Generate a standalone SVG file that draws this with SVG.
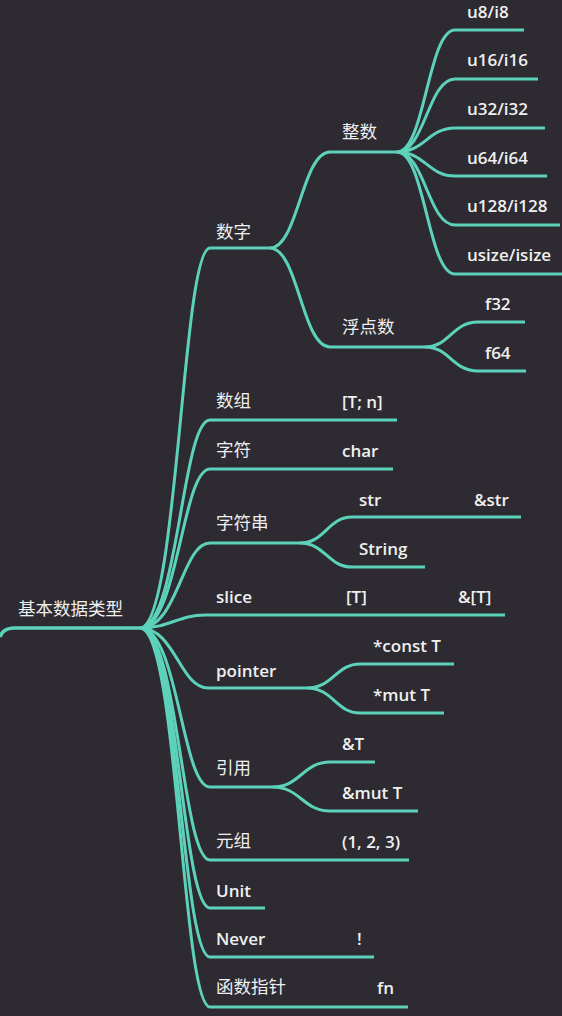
<svg xmlns="http://www.w3.org/2000/svg" width="562" height="1016" viewBox="0 0 562 1016">
<style>
.c{fill:none;stroke:#5dd2ba;stroke-width:3;stroke-linecap:butt}
.t{font-family:"Open Sans","Noto Sans CJK SC",sans-serif;font-size:17px;font-weight:600;fill:#f0f0f0}
.z{font-family:"Noto Sans CJK SC",sans-serif;font-size:17.5px;font-weight:400;fill:#f0f0f0}
</style>
<rect width="562" height="1016" fill="#2d2a32"/>
<g id="connectors">
<path class="c" style="stroke-width:3.5" d="M0,637 Q3,628 14,628 H140"/>
<path class="c" d="M140,628 C178,628 182,248 210,248 H270"/>
<path class="c" d="M140,628 C178,628 182,420 210,420 H397"/>
<path class="c" d="M140,628 C178,628 182,469 210,469 H393"/>
<path class="c" d="M140,628 C178,628 182,543 210,543 H300"/>
<path class="c" d="M140,628 C170,628 178,615 205,615 H505"/>
<path class="c" d="M140,628 C175,628 180,688 208,688 H307"/>
<path class="c" d="M140,628 C178,628 182,787 210,787 H273"/>
<path class="c" d="M140,628 C178,628 182,860 210,860 H409"/>
<path class="c" d="M140,628 C178,628 182,908 210,908 H265"/>
<path class="c" d="M140,628 C178,628 182,957 210,957 H374"/>
<path class="c" d="M140,628 C178,628 182,1007 210,1007 H408"/>
<path class="c" d="M270,248 C298,248 302,152 330,152 H397"/>
<path class="c" d="M270,248 C298,248 302,347 330,347 H425"/>
<path class="c" d="M397,152 C425,152 428,30 455,30 H524"/>
<path class="c" d="M397,152 C425,152 428,79 455,79 H538"/>
<path class="c" d="M397,152 C425,152 428,128 455,128 H545"/>
<path class="c" d="M397,152 C425,152 428,176 455,176 H547"/>
<path class="c" d="M397,152 C425,152 428,225 455,225 H560"/>
<path class="c" d="M397,152 C425,152 428,274 455,274 H562"/>
<path class="c" d="M425,347 C450,347 452,322 478,322 H525"/>
<path class="c" d="M425,347 C450,347 452,371 478,371 H526"/>
<path class="c" d="M300,543 C325,543 328,517 352,517 H521"/>
<path class="c" d="M300,543 C325,543 328,567 352,567 H425"/>
<path class="c" d="M307,688 C333,688 336,664 360,664 H454"/>
<path class="c" d="M307,688 C333,688 336,713 360,713 H444"/>
<path class="c" d="M273,787 C300,787 303,762 330,762 H375"/>
<path class="c" d="M273,787 C300,787 303,811 330,811 H418"/>
</g>
<g id="root"><text class="z" x="18" y="615">基本数据类型</text></g>
<g id="n-shuzi"><text class="z" x="216" y="238">数字</text></g>
<g id="n-zhengshu"><text class="z" x="342" y="138">整数</text></g>
<g id="n-u8"><text class="t" x="467" y="18">u8/i8</text></g>
<g id="n-u16"><text class="t" x="467" y="66">u16/i16</text></g>
<g id="n-u32"><text class="t" x="467" y="115">u32/i32</text></g>
<g id="n-u64"><text class="t" x="467" y="164">u64/i64</text></g>
<g id="n-u128"><text class="t" x="467" y="212">u128/i128</text></g>
<g id="n-usize"><text class="t" x="467" y="261">usize/isize</text></g>
<g id="n-float"><text class="z" x="342" y="333">浮点数</text></g>
<g id="n-f32"><text class="t" x="485" y="310">f32</text></g>
<g id="n-f64"><text class="t" x="485" y="359">f64</text></g>
<g id="n-array"><text class="z" x="216" y="407">数组</text><text class="t" x="342" y="408">[T; n]</text></g>
<g id="n-char"><text class="z" x="216" y="456">字符</text><text class="t" x="342" y="457">char</text></g>
<g id="n-string"><text class="z" x="216" y="529">字符串</text></g>
<g id="n-str"><text class="t" x="359" y="506">str</text><text class="t" x="474" y="506">&amp;str</text></g>
<g id="n-String"><text class="t" x="359" y="555">String</text></g>
<g id="n-slice"><text class="t" x="216" y="603">slice</text><text class="t" x="346" y="603">[T]</text><text class="t" x="458" y="603">&amp;[T]</text></g>
<g id="n-pointer"><text class="t" x="216" y="677">pointer</text></g>
<g id="n-const"><text class="t" x="373" y="652">*const T</text></g>
<g id="n-mut"><text class="t" x="373" y="701">*mut T</text></g>
<g id="n-ref"><text class="z" x="216" y="774">引用</text></g>
<g id="n-refT"><text class="t" x="342" y="750">&amp;T</text></g>
<g id="n-refmut"><text class="t" x="342" y="799">&amp;mut T</text></g>
<g id="n-tuple"><text class="z" x="216" y="847">元组</text><text class="t" x="342" y="848">(1, 2, 3)</text></g>
<g id="n-unit"><text class="t" x="216" y="897">Unit</text></g>
<g id="n-never"><text class="t" x="216" y="945">Never</text><text class="t" x="357" y="945">!</text></g>
<g id="n-fn"><text class="z" x="216" y="993">函数指针</text><text class="t" x="377" y="994">fn</text></g>
</svg>
